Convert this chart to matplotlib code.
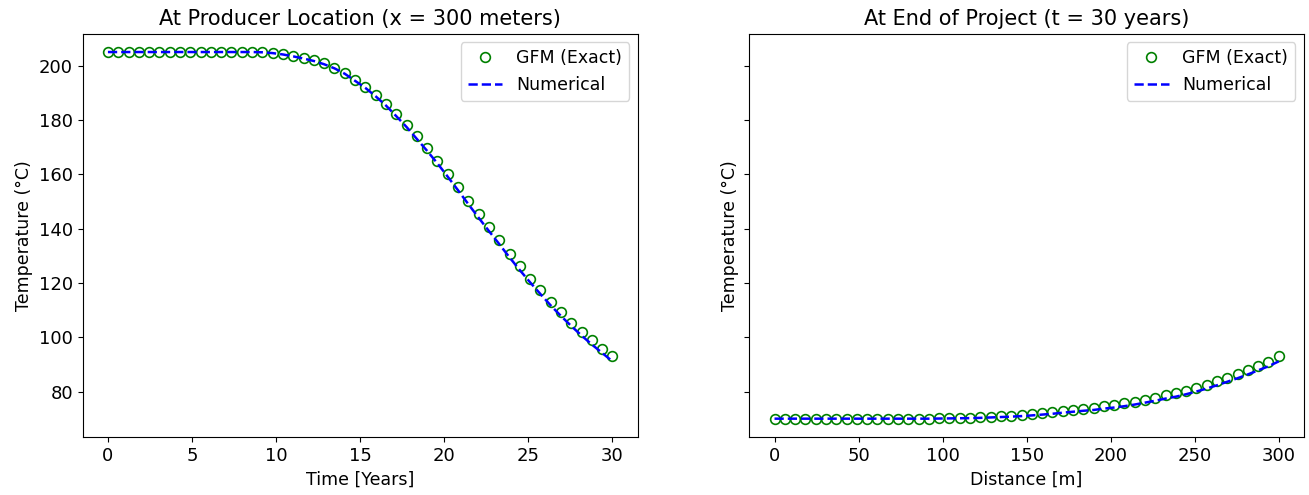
import numpy as np
import matplotlib
matplotlib.use("Agg")
import matplotlib.pyplot as plt

# ---- data ----
time_years = np.linspace(0, 30, 50)
distance_m = np.linspace(0, 300, 50)

exact_time = [205.0, 205.0, 205.0, 205.0, 205.0, 205.0, 205.0, 205.0, 205.0, 205.0,
              205.0, 205.0, 205.0, 205.0, 205.0, 204.9, 204.6, 204.2, 203.5, 202.8,
              201.9, 200.8, 199.3, 197.4, 194.8, 192.3, 189.2, 185.9, 182.1, 178.2,
              173.9, 169.6, 165.0, 160.2, 155.3, 150.2, 145.3, 140.4, 135.7, 130.8,
              126.1, 121.6, 117.3, 113.0, 109.1, 105.4, 102.0, 98.8, 95.7, 92.9]

numerical_time = [205.0, 205.0, 205.0, 205.0, 205.0, 205.0, 205.0, 205.0, 205.0, 205.0,
                  205.0, 205.0, 205.0, 205.0, 205.0, 204.9, 204.6, 204.1, 203.4, 202.6,
                  201.7, 200.5, 199.0, 197.0, 194.4, 191.8, 188.7, 185.3, 181.4, 177.4,
                  173.0, 168.6, 164.0, 159.1, 154.1, 149.0, 144.0, 139.1, 134.3, 129.4,
                  124.7, 120.2, 115.9, 111.7, 107.8, 104.1, 100.6, 97.3, 94.2, 91.1]

exact_dist = [70.0, 70.0, 70.0, 70.0, 70.0, 70.0, 70.0, 70.0, 70.0, 70.0,
              70.0, 70.0, 70.0, 70.0, 70.0, 70.05, 70.1, 70.15, 70.25, 70.35,
              70.5, 70.7, 70.9, 71.1, 71.4, 71.7, 72.1, 72.4, 72.9, 73.3,
              73.6, 74.0, 74.6, 75.0, 75.6, 76.2, 77.0, 77.7, 78.6, 79.3,
              80.3, 81.4, 82.5, 83.7, 85.1, 86.4, 87.8, 89.5, 91.0, 92.9]

numerical_dist = [70.0, 70.0, 70.0, 70.0, 70.0, 70.0, 70.0, 70.0, 70.0, 70.0,
                  70.0, 70.0, 70.0, 70.0, 70.0, 70.0, 70.05, 70.1, 70.15, 70.2,
                  70.3, 70.45, 70.6, 70.75, 70.95, 71.2, 71.5, 71.8, 72.2, 72.55,
                  72.9, 73.2, 73.7, 74.1, 74.6, 75.2, 75.9, 76.6, 77.4, 78.1,
                  79.0, 80.0, 81.1, 82.3, 83.6, 84.9, 86.3, 87.8, 89.3, 91.1]

plt.rcParams['font.size'] = 12.5
plt.rcParams['xtick.labelsize'] = 13
plt.rcParams['ytick.labelsize'] = 13

fig = plt.figure(figsize=(13.09, 4.95), dpi=100)
W, H = 1309, 495
ax1 = fig.add_axes([82.7 / W, 1 - 437 / H, (637.7 - 82.7) / W, (437 - 33.7) / H])
ax2 = fig.add_axes([749.3 / W, 1 - 437 / H, (1304 - 749.3) / W, (437 - 33.7) / H], sharey=ax1)

ax1.plot(time_years, exact_time, 'o', mfc='none', mec='green', ms=7, mew=1.2, label='GFM (Exact)')
ax1.plot(time_years, numerical_time, '--', color='blue', lw=1.8, label='Numerical')
ax1.set_title('At Producer Location (x = 300 meters)', fontsize=15)
ax1.set_xlabel('Time [Years]')
ax1.set_ylabel('Temperature (°C)')
ax1.legend(loc='upper right')

ax2.plot(distance_m, exact_dist, 'o', mfc='none', mec='green', ms=7, mew=1.2, label='GFM (Exact)')
ax2.plot(distance_m, numerical_dist, '--', color='blue', lw=1.8, label='Numerical')
ax2.set_title('At End of Project (t = 30 years)', fontsize=15)
ax2.set_xlabel('Distance [m]')
ax2.set_ylabel('Temperature (°C)')
ax2.tick_params(labelleft=False)
ax2.legend(loc='upper right')

fig.savefig('out.png', dpi=100)
